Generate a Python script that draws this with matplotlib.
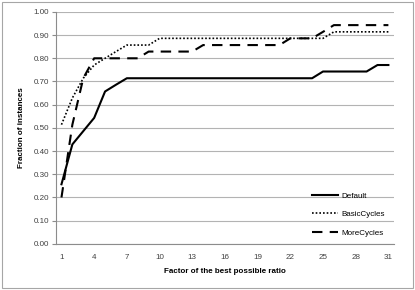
import matplotlib
matplotlib.use('Agg')
import matplotlib.pyplot as plt
from matplotlib.patches import Rectangle

# Factor of the best possible ratio (category axis 1..31)
factors = list(range(1, 32))
tick_factors = [1, 4, 7, 10, 13, 16, 19, 22, 25, 28, 31]

default = [0.257, 0.429, 0.486, 0.543, 0.657, 0.686,
           0.714, 0.714, 0.714, 0.714, 0.714, 0.714, 0.714, 0.714, 0.714,
           0.714, 0.714, 0.714, 0.714, 0.714, 0.714, 0.714, 0.714, 0.714,
           0.743, 0.743, 0.743, 0.743, 0.743, 0.771, 0.771]
basic_cycles = [0.514, 0.629, 0.714, 0.771, 0.800, 0.829,
                0.857, 0.857, 0.857,
                0.886, 0.886, 0.886, 0.886, 0.886, 0.886, 0.886, 0.886,
                0.886, 0.886, 0.886, 0.886, 0.886, 0.886, 0.886, 0.886,
                0.914, 0.914, 0.914, 0.914, 0.914, 0.914]
more_cycles = [0.200, 0.514, 0.714, 0.800, 0.800, 0.800, 0.800, 0.800,
               0.829, 0.829, 0.829, 0.829, 0.829,
               0.857, 0.857, 0.857, 0.857, 0.857, 0.857, 0.857, 0.857,
               0.886, 0.886, 0.886, 0.914,
               0.943, 0.943, 0.943, 0.943, 0.943, 0.943]

plt.rcParams['font.family'] = ['Liberation Sans', 'DejaVu Sans']

fig = plt.figure(figsize=(4.15, 2.9), dpi=100)
ax = fig.add_axes([0.135, 0.159, 0.814, 0.800])

ax.plot(factors, default, color='black', lw=1.5, label='Default')
ax.plot(factors, basic_cycles, color='black', lw=1.2, linestyle=(0, (1, 1.2)),
        label='BasicCycles')
ax.plot(factors, more_cycles, color='black', lw=1.5, linestyle=(0, (5, 3.5)),
        label='MoreCycles')

ax.set_xlim(0.5, 31.5)
ax.set_ylim(0, 1.0)
ax.set_yticks([i / 10 for i in range(11)])
ax.set_yticklabels([f'{i / 10:.2f}' for i in range(11)])
ax.set_xticks(tick_factors)
ax.grid(axis='y', color='#b3b3b3', lw=0.8)
ax.set_axisbelow(True)
for side in ['top', 'right']:
    ax.spines[side].set_visible(False)
ax.spines['left'].set_color('#8c8c8c')
ax.spines['bottom'].set_color('#8c8c8c')
ax.tick_params(axis='y', length=3, color='#8c8c8c', labelsize=5.8,
               labelcolor='#404040', pad=2)
ax.tick_params(axis='x', length=0, labelsize=5.8, labelcolor='#404040', pad=7)

ax.set_xlabel('Factor of the best possible ratio', fontsize=5.8,
              fontweight='bold', labelpad=5)
ax.set_ylabel('Fraction of instances', fontsize=5.8, fontweight='bold',
              labelpad=6)

leg = ax.legend(loc='lower right', bbox_to_anchor=(0.995, 0.0), frameon=False,
                fontsize=5.8, handlelength=3.2, labelspacing=1.35,
                handletextpad=0.4)

# thin frame around the whole chart
fig.patches.append(Rectangle((0.004, 0.007), 0.99, 0.985, transform=fig.transFigure,
                             fill=False, edgecolor='#a6a6a6', lw=0.8))

fig.savefig('out.png', dpi=100)
